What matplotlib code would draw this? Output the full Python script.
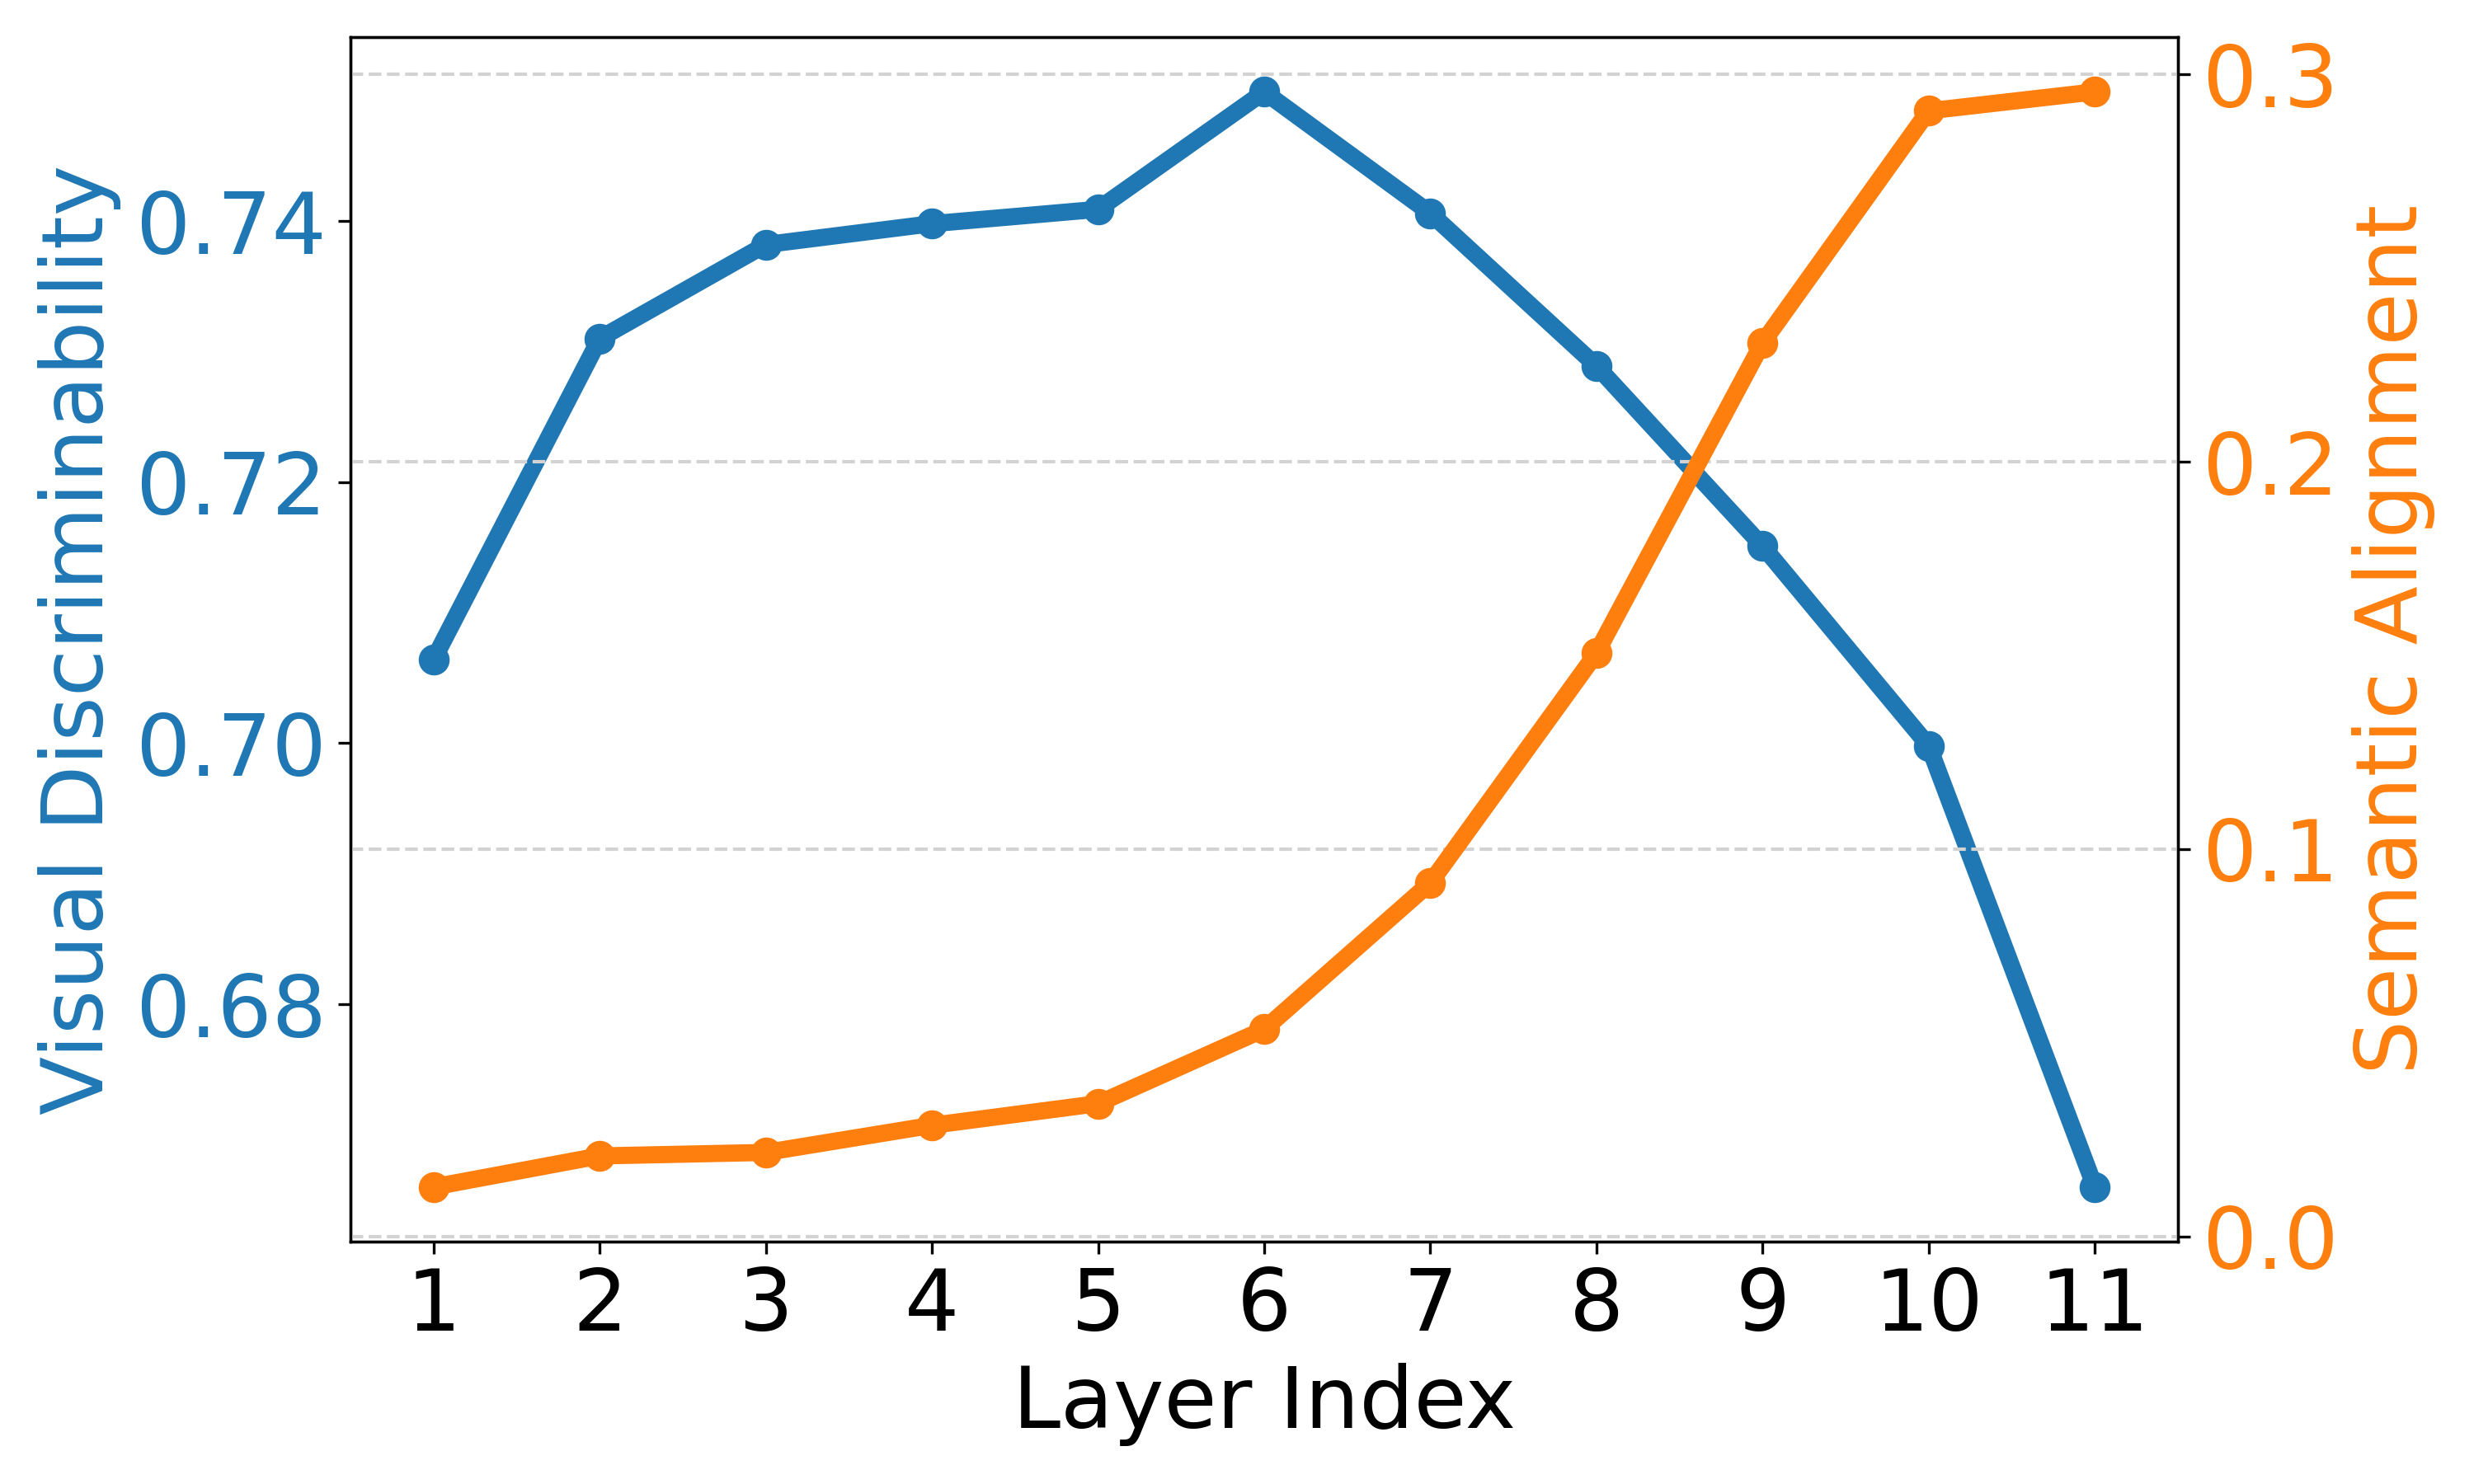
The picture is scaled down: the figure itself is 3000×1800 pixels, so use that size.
import numpy as np
import matplotlib
matplotlib.use("Agg")
import matplotlib.pyplot as plt

# layer-wise values
layers = [1, 2, 3, 4, 5, 6, 7, 8, 9, 10, 11]
visual_disc = [0.7064, 0.7310, 0.7382, 0.7398, 0.7409, 0.7499,
               0.7406, 0.7289, 0.7151, 0.6998, 0.6660]
semantic_align = [0.0128, 0.0208, 0.0217, 0.0287, 0.0343, 0.0535,
                  0.0913, 0.1506, 0.2307, 0.2906, 0.2955]

blue = '#1f77b4'
orange = '#ff7f0e'
fs = 25

fig, ax1 = plt.subplots(figsize=(10, 6), dpi=300)
fig.subplots_adjust(left=0.1417, right=0.8803, bottom=0.1633, top=0.975)

ax1.plot(layers, visual_disc, color=blue, marker='o', linewidth=5, markersize=8)
ax1.set_xlabel('Layer Index', fontsize=fs)
ax1.set_ylabel('Visual Discriminability', color=blue, fontsize=fs)
ax1.tick_params(axis='y', labelcolor=blue, labelsize=fs)
ax1.tick_params(axis='x', labelsize=fs)
ax1.set_xticks(layers)

# second axis for the semantic alignment curve
ax2 = ax1.twinx()
ax2.plot(layers, semantic_align, color=orange, marker='o', linewidth=5, markersize=8)
ax2.set_ylabel('Semantic Alignment', color=orange, fontsize=fs)
ax2.tick_params(axis='y', labelcolor=orange, labelsize=fs)
ax2.set_yticks([0.0, 0.1, 0.2, 0.3])
ax2.grid(True, linestyle='--', color='#d3d3d3', linewidth=1)

plt.savefig('out.png', dpi=300)
